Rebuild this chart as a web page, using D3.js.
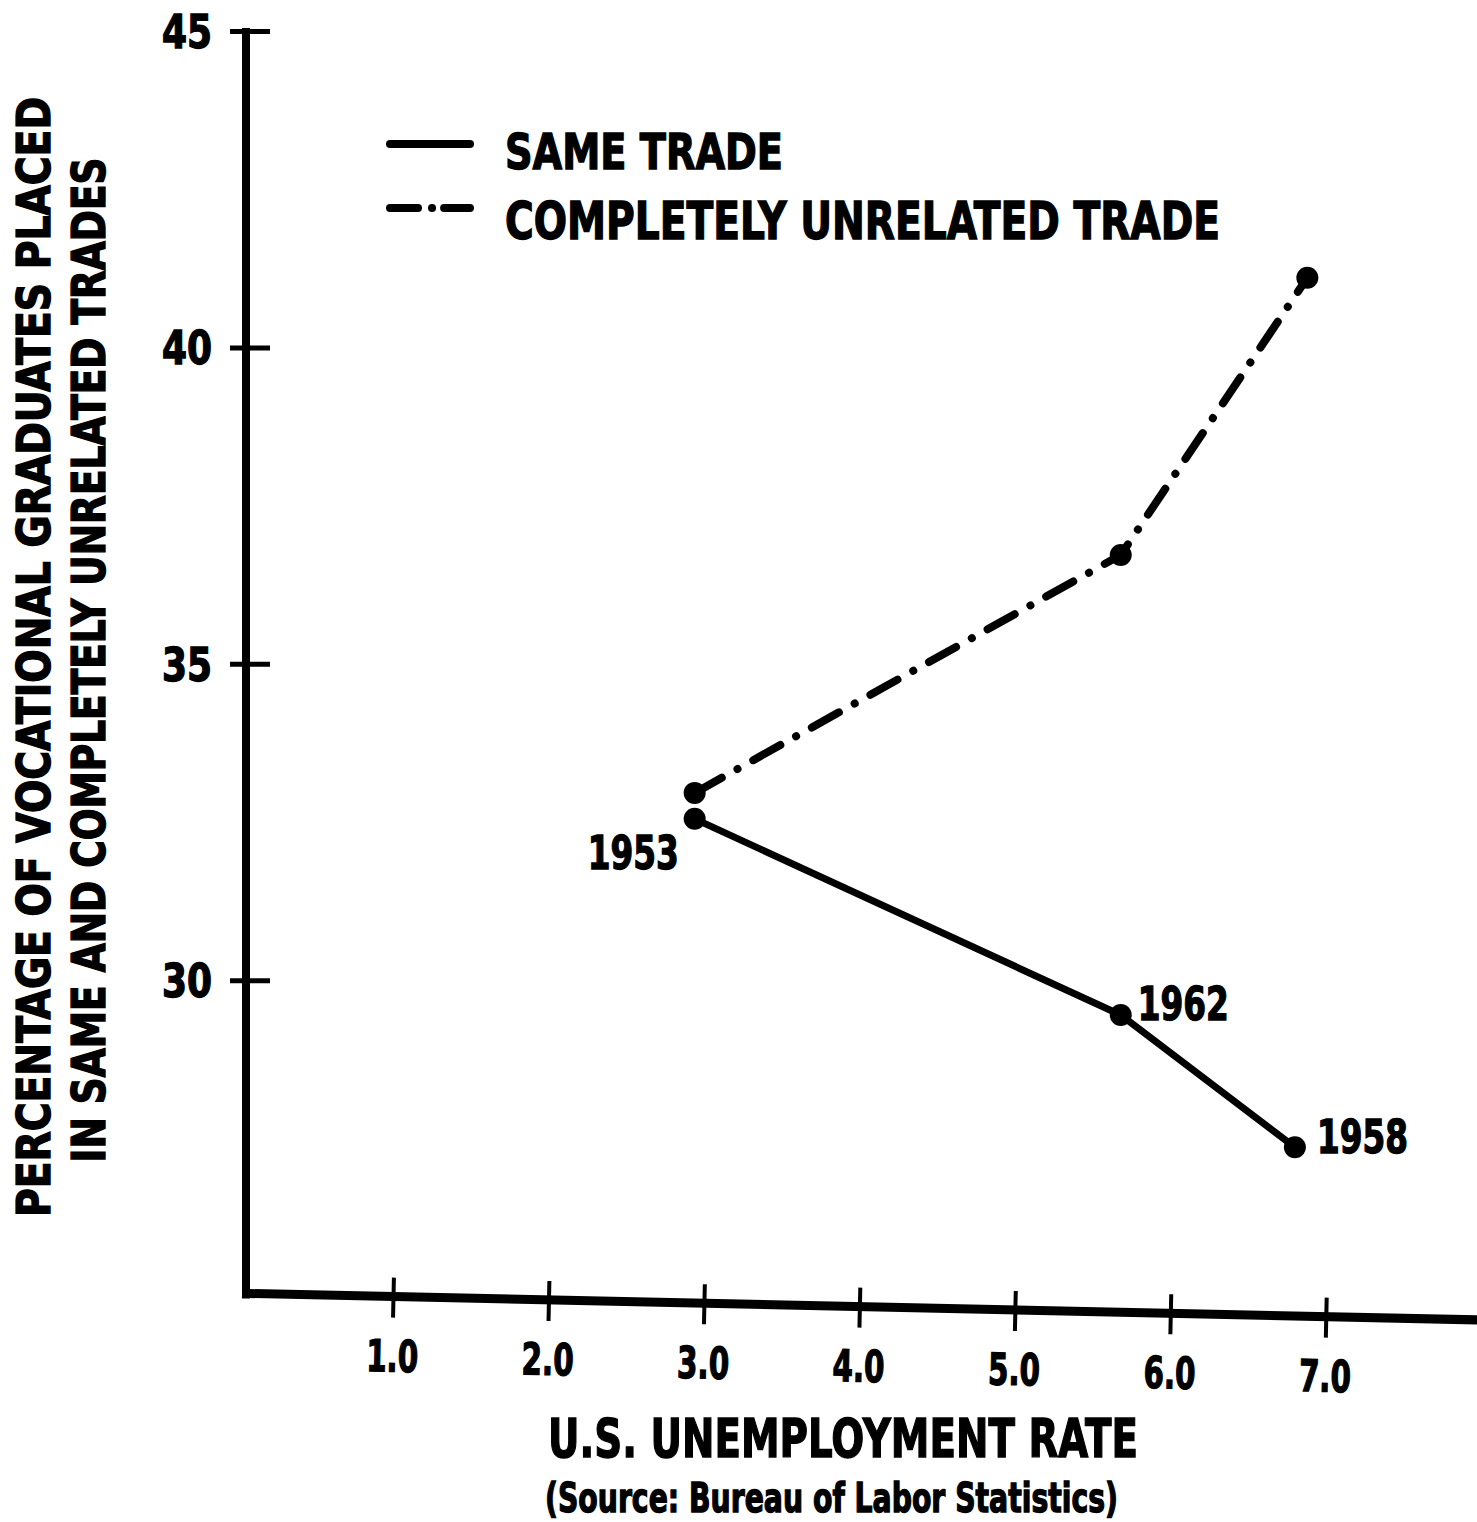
<!DOCTYPE html>
<html><head><meta charset="utf-8">
<script src="https://cdn.jsdelivr.net/npm/d3@7"></script>
<style>
html,body{margin:0;padding:0;background:#fff;}
svg{display:block;}
text{font-family:"Liberation Sans Narrow","DejaVu Sans Condensed","Arial Narrow",sans-serif;font-weight:bold;fill:#000;stroke:#000;stroke-width:1.3px;}
</style></head><body>
<svg id="chart" width="1477" height="1522"></svg>
<script>
// ---- data ----
const xTicks = [1, 2, 3, 4, 5, 6, 7];
const xTickLabels = ["1.0", "2.0", "3.0", "4.0", "5.0", "6.0", "7.0"];
const yTicks = [30, 35, 40, 45];
const yTickLabels = ["30", "35", "40", "45"];
const sameTradeX = [2.94, 5.68, 6.80];
const sameTradeY = [32.55, 29.45, 27.36];
const sameTradeYears = ["1953", "1962", "1958"];
const unrelatedX = [2.94, 5.68, 6.88];
const unrelatedY = [32.96, 36.72, 41.10];
const seriesNames = ["SAME TRADE", "COMPLETELY UNRELATED TRADE"];
const yTitleLines = ["PERCENTAGE OF VOCATIONAL GRADUATES PLACED", "IN SAME AND COMPLETELY UNRELATED TRADES"];
const xTitle = "U.S. UNEMPLOYMENT RATE";
const sourceNote = "(Source: Bureau of Labor Statistics)";

// ---- layout ----
const svg = d3.select("#chart");
const x = d3.scaleLinear().domain([0, 7]).range([237.5, 1326]);
const y = d3.scaleLinear().domain([25, 45]).range([1296.6, 31]);
const dashDot = "31,18,0.1,18";

// y axis
const yAxisX = 246;
const gy = svg.append("g").attr("transform", `translate(${yAxisX},0)`)
  .call(d3.axisLeft(y).tickValues(yTicks).tickFormat((d, i) => yTickLabels[i]).tickSizeOuter(0));
gy.attr("font-family", null).attr("font-size", null);
gy.select(".domain").remove();
gy.selectAll(".tick line").attr("x1", -16).attr("x2", 24).attr("stroke", "#000").attr("stroke-width", 5);
gy.selectAll(".tick text").attr("x", -34).attr("dy", "0.36em").attr("fill", null)
  .style("font-size", "46px").attr("textLength", 50).attr("lengthAdjust", "spacingAndGlyphs");
svg.append("line").attr("x1", yAxisX).attr("x2", yAxisX).attr("y1", 28).attr("y2", y(25) + 2)
  .attr("stroke", "#000").attr("stroke-width", 8);

// x axis (slightly tilted, as in the scan)
const gx = svg.append("g").attr("transform", `translate(0,${y(25)}) rotate(1.23, ${x(1)}, 0)`)
  .call(d3.axisBottom(x).tickValues(xTicks).tickFormat((d, i) => xTickLabels[i]).tickSizeOuter(0));
gx.attr("font-family", null).attr("font-size", null);
gx.select(".domain").remove();
gx.append("line").attr("x1", yAxisX - 4).attr("x2", 1520).attr("y1", 0).attr("y2", 0)
  .attr("stroke", "#000").attr("stroke-width", 9);
gx.selectAll(".tick line").attr("y1", -19).attr("y2", 21).attr("stroke", "#000").attr("stroke-width", 4);
gx.selectAll(".tick text").attr("y", 75).attr("dy", "0").attr("fill", null)
  .style("font-size", "44px").attr("textLength", 52).attr("lengthAdjust", "spacingAndGlyphs");

// axis titles
yTitleLines.forEach((t, i) => {
  const pos = [[50, 657, 1120], [105, 660, 1005]][i];
  svg.append("text").attr("transform", `translate(${pos[0]},${pos[1]}) rotate(-90)`)
    .attr("text-anchor", "middle").style("font-size", "46px")
    .attr("textLength", pos[2]).attr("lengthAdjust", "spacingAndGlyphs").text(t);
});
svg.append("text").attr("x", 548).attr("y", 1457).style("font-size", "54px")
  .attr("textLength", 590).attr("lengthAdjust", "spacingAndGlyphs").text(xTitle);
svg.append("text").attr("x", 545).attr("y", 1512).style("font-size", "40px")
  .attr("textLength", 573).attr("lengthAdjust", "spacingAndGlyphs").text(sourceNote);

// legend
const legendItems = [
  {name: seriesNames[0], dash: null, ly: 144, ty: 169, size: 50, len: 278},
  {name: seriesNames[1], dash: "28,14,0.1,12,40", ly: 208, ty: 239, size: 52, len: 715}
];
legendItems.forEach(it => {
  const ln = svg.append("line").attr("x1", 390).attr("x2", 470).attr("y1", it.ly).attr("y2", it.ly)
    .attr("stroke", "#000").attr("stroke-width", 8).attr("stroke-linecap", "round");
  if (it.dash) ln.attr("stroke-dasharray", it.dash);
  svg.append("text").attr("x", 505).attr("y", it.ty).style("font-size", it.size + "px")
    .attr("textLength", it.len).attr("lengthAdjust", "spacingAndGlyphs").text(it.name);
});

// series
const sameData = sameTradeX.map((v, i) => ({x: v, y: sameTradeY[i], year: sameTradeYears[i]}));
const unrelData = unrelatedX.map((v, i) => ({x: v, y: unrelatedY[i]}));
const line = d3.line().x(d => x(d.x)).y(d => y(d.y));

svg.append("path").attr("d", line(sameData)).attr("fill", "none").attr("stroke", "#000")
  .attr("stroke-width", 7).attr("stroke-linejoin", "round").attr("stroke-linecap", "round");
svg.append("path").attr("d", line(unrelData)).attr("fill", "none").attr("stroke", "#000")
  .attr("stroke-width", 8).attr("stroke-linecap", "round").attr("stroke-dasharray", dashDot);

svg.selectAll(".ptS").data(sameData).enter().append("circle")
  .attr("cx", d => x(d.x)).attr("cy", d => y(d.y)).attr("r", 11).attr("fill", "#000");
svg.selectAll(".ptU").data(unrelData).enter().append("circle")
  .attr("cx", d => x(d.x)).attr("cy", d => y(d.y)).attr("r", 11).attr("fill", "#000");

// year labels
const labelOffsets = [[-107, 50], [17, 5], [22, 6]];
svg.selectAll(".yr").data(sameData).enter().append("text")
  .attr("x", (d, i) => x(d.x) + labelOffsets[i][0])
  .attr("y", (d, i) => y(d.y) + labelOffsets[i][1])
  .style("font-size", "46px").attr("textLength", 91).attr("lengthAdjust", "spacingAndGlyphs")
  .text(d => d.year);
</script>
</body></html>
